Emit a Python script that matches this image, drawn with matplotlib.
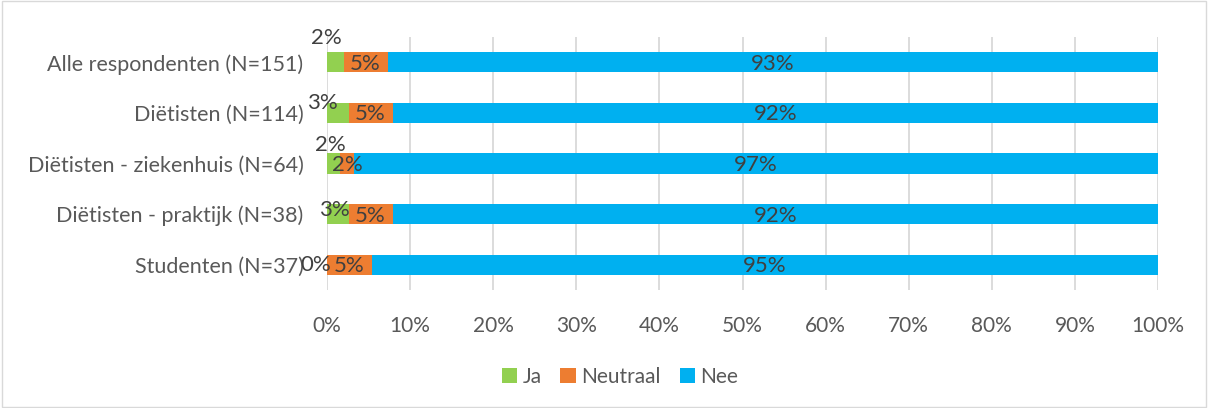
import numpy as np
import matplotlib.pyplot as plt
from matplotlib.patches import Rectangle

# data (share of respondents, %)
categories = ["Alle respondenten (N=151)", "Diëtisten (N=114)", "Diëtisten - ziekenhuis (N=64)",
              "Diëtisten - praktijk (N=38)", "Studenten (N=37)"]
ja = [2.0, 2.6, 1.6, 2.6, 0.0]
neutraal = [5.3, 5.3, 1.6, 5.3, 5.4]
nee = [92.7, 92.1, 96.8, 92.1, 94.6]
series_names = ["Ja", "Neutraal", "Nee"]

colors = ["#92D050", "#ED7D31", "#00B0F0"]
txt = "#595959"
lbl = "#404040"

plt.rcParams["font.family"] = ["Lato", "DejaVu Sans"]

fig = plt.figure(figsize=(12.08, 4.08), dpi=100)
ax = fig.add_axes([327 / 1208, 1 - 290 / 408, 831 / 1208, 253 / 408])

y = np.arange(len(categories))
left = np.zeros(len(categories))
for vals, c, name in zip([ja, neutraal, nee], colors, series_names):
    ax.barh(y, vals, left=left, height=0.4, color=c, label=name, zorder=3)
    left += np.array(vals)

# data labels (Excel-style, small segments nudged)
ja_off = [(-1.1, -0.49), (-1.9, -0.2), (-0.45, -0.37), (-0.45, -0.08), (-1.3, 0.0)]
fs = 15.5
fs_lbl = 16
for i in range(len(categories)):
    dx, dy = ja_off[i]
    ax.text(ja[i] / 2 + dx, y[i] + dy, f"{ja[i]:.0f}%", ha="center", va="center",
            fontsize=fs_lbl, color=lbl, zorder=4)
    ax.text(ja[i] + neutraal[i] / 2, y[i] + 0.03, f"{neutraal[i]:.0f}%", ha="center", va="center",
            fontsize=fs_lbl, color=lbl, zorder=4)
    ax.text(ja[i] + neutraal[i] + nee[i] / 2, y[i] + 0.03, f"{nee[i]:.0f}%", ha="center",
            va="center", fontsize=fs_lbl, color=lbl, zorder=4)

ax.set_xlim(0, 100)
ax.set_ylim(len(categories) - 0.5, -0.5)
ax.set_yticks(y)
ax.set_yticklabels(categories, fontsize=fs, color=txt)
ax.set_xticks(np.arange(0, 101, 10))
ax.set_xticklabels([f"{v}%" for v in range(0, 101, 10)], fontsize=15, color=txt)
ax.tick_params(length=0)
ax.tick_params(axis="x", pad=19)
ax.tick_params(axis="y", pad=17)
ax.grid(axis="x", color="#D9D9D9", lw=1.3, zorder=0)
for s in ax.spines.values():
    s.set_visible(False)

fig.legend(loc="center", bbox_to_anchor=(620 / 1208, 1 - 377 / 408), ncol=3, frameon=False,
           fontsize=15, labelcolor=txt, handlelength=0.75, handleheight=0.75,
           handletextpad=0.25, columnspacing=0.9)

fig.patches.append(Rectangle((0.002, 0.002), 0.996, 0.996, transform=fig.transFigure,
                             fill=False, edgecolor="#D9D9D9", lw=1))

fig.savefig("out.png", dpi=100)
